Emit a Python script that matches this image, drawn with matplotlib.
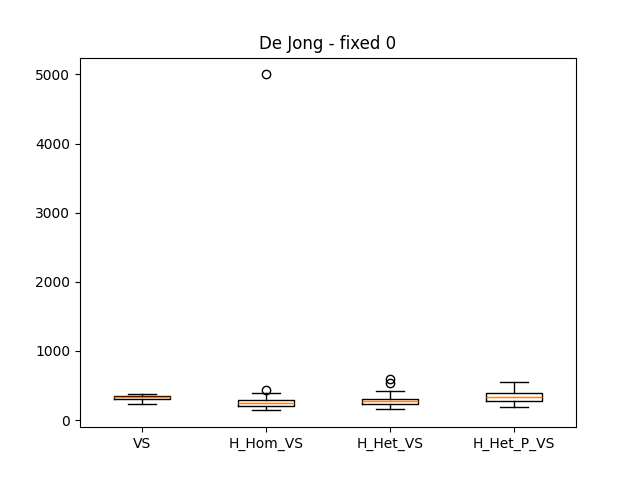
import matplotlib
matplotlib.use("Agg")
import matplotlib.pyplot as plt

labels = ['VS', 'H_Hom_VS', 'H_Het_VS', 'H_Het_P_VS']
whislo = [227, 140, 154, 183]
q1 = [299, 202, 227, 270]
med = [328, 250, 270, 328]
q3 = [347, 284, 299, 390]
whishi = [380, 390, 419, 544]
fliers = [[], [433, 5000], [530, 588], []]

stats = []
for i in range(len(labels)):
    stats.append(dict(label=labels[i], whislo=whislo[i], q1=q1[i], med=med[i],
                      q3=q3[i], whishi=whishi[i], fliers=fliers[i]))

fig, ax = plt.subplots(figsize=(6.4, 4.8), dpi=100)
ax.bxp(stats)
ax.set_title('De Jong - fixed 0')
plt.savefig('out.png')
